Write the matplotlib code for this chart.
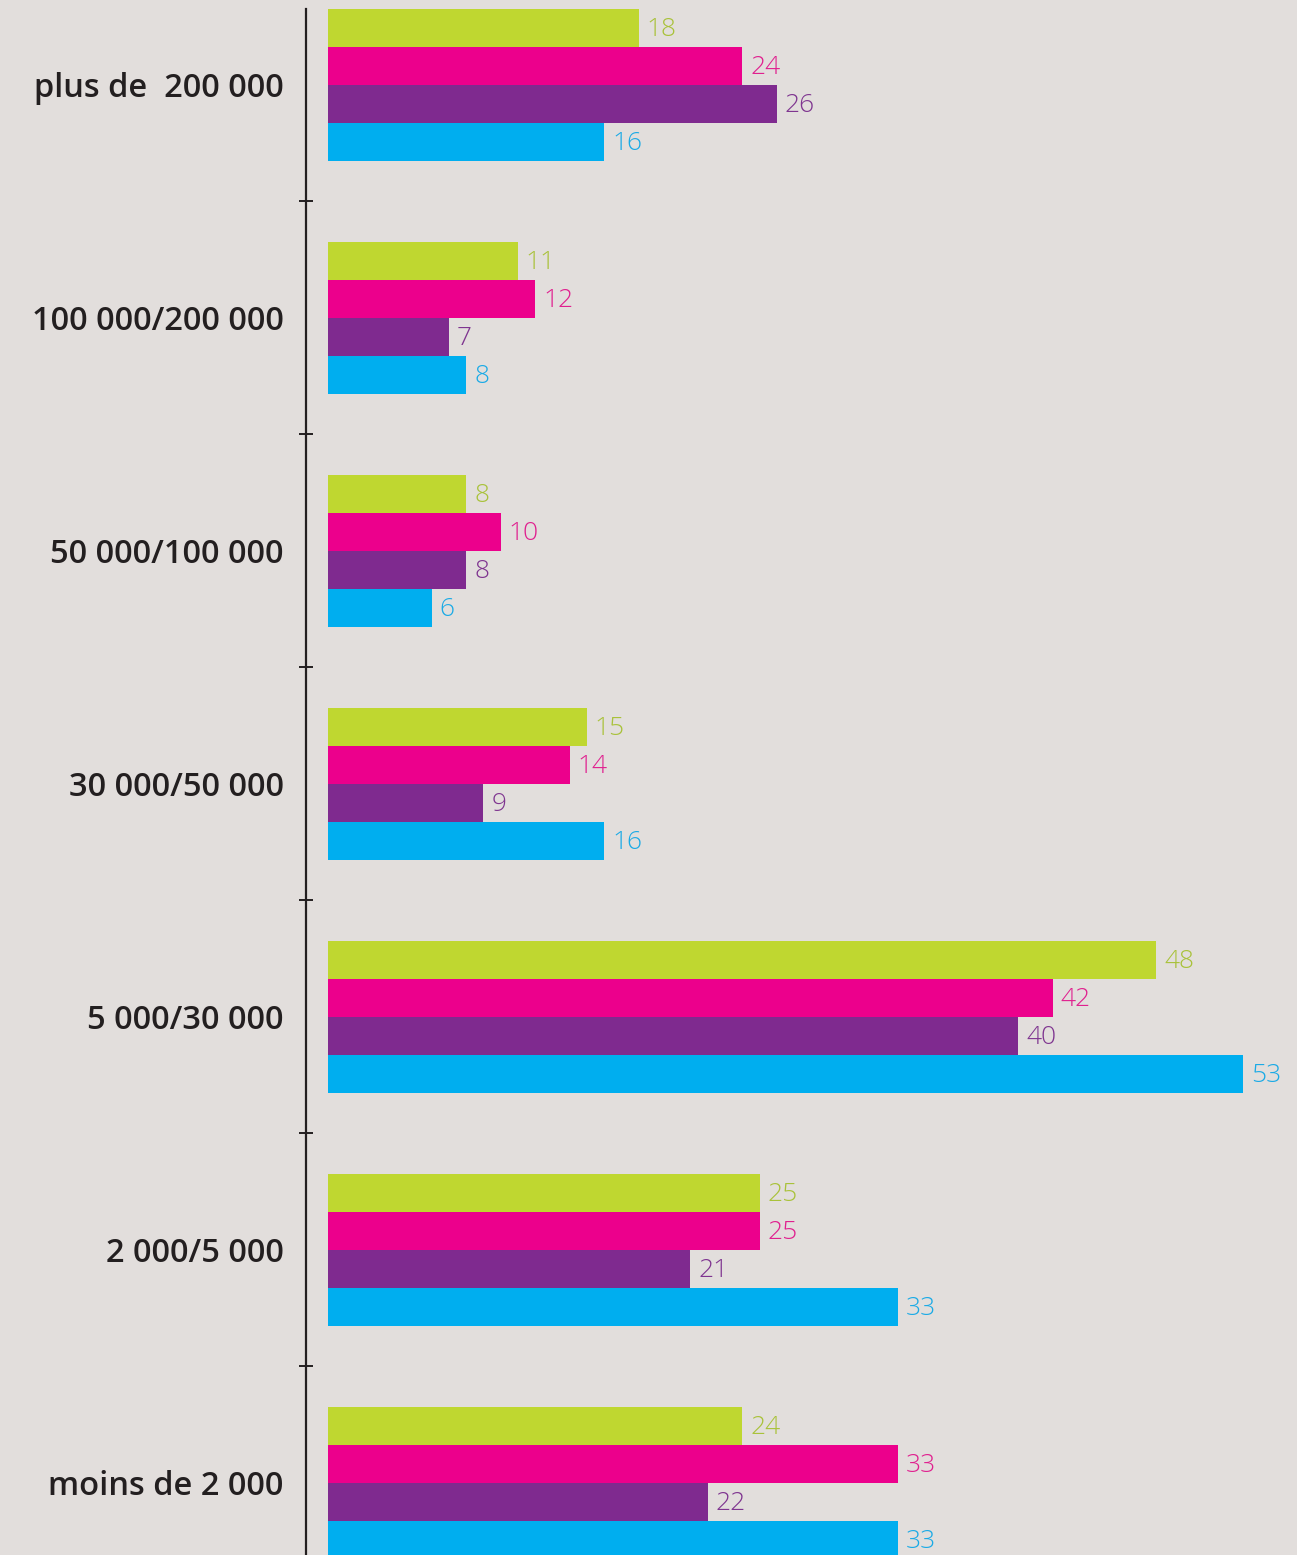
import matplotlib
matplotlib.use('Agg')
import matplotlib.pyplot as plt
import numpy as np

# Data (top group first)
categories = ['plus de  200 000', '100 000/200 000', '50 000/100 000',
              '30 000/50 000', '5 000/30 000', '2 000/5 000', 'moins de 2 000']
serie_green = [18, 11, 8, 15, 48, 25, 24]
serie_pink = [24, 12, 10, 14, 42, 25, 33]
serie_purple = [26, 7, 8, 9, 40, 21, 22]
serie_blue = [16, 8, 6, 16, 53, 33, 33]

series = [serie_green, serie_pink, serie_purple, serie_blue]
colors = ['#BFD730', '#EC008C', '#7F2A8F', '#00AEEF']
label_colors = ['#A9C23A', '#E0208F', '#7F3590', '#1AAAE6']
bg = '#E2DEDC'
ink = '#231F20'

W, H = 1297, 1555
fig = plt.figure(figsize=(W / 100, H / 100), dpi=100, facecolor=bg)

ax_left = 306
ax = fig.add_axes([ax_left / W, 0, 1 - ax_left / W, 1])
ax.set_facecolor(bg)

px_per_unit = 17.26
group_px = 233.0
first_center = 85.0
x0 = -(328 - ax_left) / px_per_unit
ax.set_xlim(x0, x0 + (W - ax_left) / px_per_unit)
ytop = -first_center / group_px
ybot = (H - first_center) / group_px
ax.set_ylim(ybot, ytop)

h = 38.0 / group_px
y = np.arange(len(categories))
for j, (vals, c, lc) in enumerate(zip(series, colors, label_colors)):
    ypos = y + (j - 1.5) * h
    ax.barh(ypos, vals, height=h, left=0, color=c, linewidth=0)
    for yy, v in zip(ypos, vals):
        ax.text(v + 8 / px_per_unit, yy + 0.006, str(v), color=lc, fontsize=19,
                family='Open Sans', fontweight='light', va='center', ha='left')

for s in ['top', 'right', 'bottom']:
    ax.spines[s].set_visible(False)
ax.spines['left'].set_color(ink)
ax.spines['left'].set_linewidth(1.6)
ax.spines['left'].set_bounds(ybot, (9 - first_center) / group_px)

ax.set_xticks([])
ax.set_yticks(y)
ax.set_yticklabels(categories, fontsize=23.5, family='Open Sans', fontweight='semibold', color=ink)
ax.tick_params(axis='y', which='major', length=0, pad=16)
ax.set_yticks(y[:-1] + 0.5, minor=True)
ax.tick_params(axis='y', which='minor', direction='inout', length=10, width=1.4, color=ink)

fig.savefig('out.png', dpi=100, facecolor=bg)
